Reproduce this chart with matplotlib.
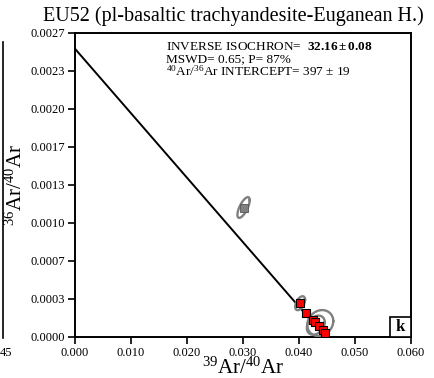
import numpy as np
import matplotlib
matplotlib.use("Agg")
import matplotlib.pyplot as plt
from matplotlib.patches import Rectangle

plt.rcParams['font.family'] = ['Liberation Serif', 'DejaVu Serif']
plt.rcParams['mathtext.fontset'] = 'custom'
plt.rcParams['mathtext.rm'] = 'Liberation Serif'
plt.rcParams['mathtext.it'] = 'Liberation Serif:italic'
plt.rcParams['mathtext.bf'] = 'Liberation Serif:bold'

# ---- data ----
x_incl = [0.0402, 0.0412, 0.0425, 0.0429, 0.0436, 0.0443, 0.0446]
y_incl = [0.000300, 0.000213, 0.000151, 0.000133, 0.000098, 0.000062, 0.000036]
x_excl = [0.0301]
y_excl = [0.00115]

# error ellipses: centre x, centre y, sigma x, sigma y, correlation
ell_cx = [0.0301, 0.0402, 0.0438, 0.0430]
ell_cy = [0.00115, 0.000300, 0.000124, 0.000105]
ell_sx = [0.00110, 0.00088, 0.00232, 0.0016]
ell_sy = [0.000092, 0.000062, 0.000115, 0.000085]
ell_rho = [0.7, 0.5, 0.15, 0.3]

# isochron line end points
line_x = [0.0, 0.0447]
line_y = [0.00256, 0.0]

xticks = [0.000, 0.010, 0.020, 0.030, 0.040, 0.050, 0.060]
xticklabels = ['0.000', '0.010', '0.020', '0.030', '0.040', '0.050', '0.060']
yticklabels = ['0.0000', '0.0003', '0.0007', '0.0010', '0.0013',
               '0.0017', '0.0020', '0.0023', '0.0027']
yticks = list(np.linspace(0, 0.0027, 9))

fig = plt.figure(figsize=(4.34, 3.78), dpi=100)
ax = fig.add_axes([0.1728, 0.1085, 0.7742, 0.8042])

ax.plot(line_x, line_y, color='black', lw=1.4, zorder=2)

t = np.linspace(0, 2 * np.pi, 200)
for cx, cy, sx, sy, r in zip(ell_cx, ell_cy, ell_sx, ell_sy, ell_rho):
    ex = cx + sx * np.cos(t)
    ey = cy + sy * (r * np.cos(t) + np.sqrt(1 - r * r) * np.sin(t))
    ax.plot(ex, ey, color='#808080', lw=1.7, zorder=3)

ax.scatter(x_excl, y_excl, marker='s', s=30, color='#808080',
           edgecolor='#555555', linewidths=0.6, zorder=4)
ax.scatter(x_incl, y_incl, marker='s', s=34, color='#ff0000',
           edgecolor='black', linewidths=0.8, zorder=5)

ax.set_xlim(0, 0.060)
ax.set_ylim(0, 0.0027)
ax.set_xticks(xticks)
ax.set_xticklabels(xticklabels, fontsize=9)
ax.set_yticks(yticks)
ax.set_yticklabels(yticklabels, fontsize=9)
ax.tick_params(direction='out', length=5, width=1.2, pad=2)
for s in ax.spines.values():
    s.set_linewidth(1.4)

ax.set_xlabel(r'$^{39}$Ar/$^{40}$Ar', fontsize=15, labelpad=-1)
ax.set_ylabel(r'$^{36}$Ar/$^{40}$Ar', fontsize=15, labelpad=3)
fig.text(0.537, 0.958, 'EU52 (pl-basaltic trachyandesite-Euganean H.)',
         ha='center', va='center', fontsize=14.5)

ax.text(0.27, 0.955, r'INVERSE ISOCHRON=  $\mathbf{32.16 \pm 0.08}$',
        transform=ax.transAxes, fontsize=9.5, va='center')
ax.text(0.27, 0.914, 'MSWD= 0.65; P= 87%', transform=ax.transAxes,
        fontsize=9.5, va='center')
ax.text(0.27, 0.873, r'$^{40}$Ar/$^{36}$Ar INTERCEPT= 397 $\pm$ 19',
        transform=ax.transAxes, fontsize=9.5, va='center')

ax.add_patch(Rectangle((0.9375, 0.0), 0.0625, 0.066, transform=ax.transAxes,
                       fc='white', ec='black', lw=1.2, zorder=6))
ax.text(0.96875, 0.033, 'k', transform=ax.transAxes, fontsize=12,
        fontweight='bold', ha='center', va='center', zorder=7)

# neighbouring panel edge
fig.add_artist(plt.Line2D([0.008, 0.008], [0.105, 0.89], color='black', lw=1.2))
fig.text(0.0, 0.065, '45', fontsize=9, ha='left', va='center')

fig.savefig('out.png', dpi=100)
